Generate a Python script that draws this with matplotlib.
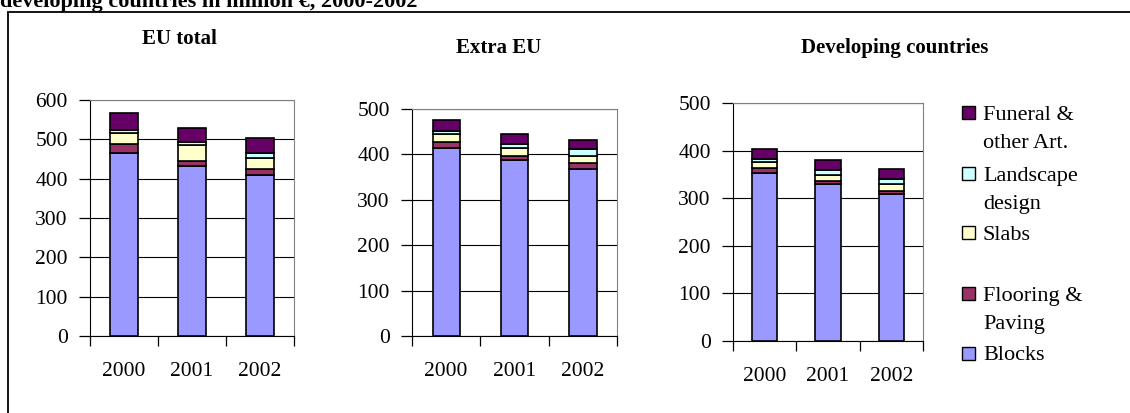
import matplotlib.pyplot as plt
from matplotlib.patches import Rectangle

plt.rcParams['font.family'] = ['Liberation Serif', 'DejaVu Serif']

W, H = 1130, 413

years = ['2000', '2001', '2002']
series = ['Blocks', 'Flooring & Paving', 'Slabs', 'Landscape design', 'Funeral & other Art.']
colors = ['#9999FF', '#993366', '#FFFFCC', '#CCFFFF', '#660066']

# values, million euro, rows follow `series`
eu_total = [[466, 433, 409],
            [22, 13, 15],
            [29, 39, 29],
            [7, 8, 13],
            [42, 37, 37]]
extra_eu = [[415, 388, 368],
            [13, 8, 12],
            [16, 19, 16],
            [7, 8, 16],
            [25, 22, 20]]
developing = [[352, 329, 308],
              [12, 7, 7],
              [12, 13, 14],
              [7, 11, 12],
              [20, 20, 21]]

panel_titles = ['EU total', 'Extra EU', 'Developing countries']
panel_data = [eu_total, extra_eu, developing]
panel_ymax = [600, 500, 500]

# legend order top to bottom, as in the original
legend_labels = ['Funeral &\nother Art.', 'Landscape\ndesign', 'Slabs', 'Flooring &\nPaving', 'Blocks']
legend_colors = [colors[4], colors[3], colors[2], colors[1], colors[0]]

# axes boxes in pixels: left, top, right, bottom
boxes = [(90, 100, 294, 336), (412, 109, 617, 336), (733, 103, 923, 341)]
title_pos = [(179, 39), (499, 48), (895, 48)]


def fx(px):
    return px / W


def fy(py):
    return 1 - py / H


fig = plt.figure(figsize=(W / 100, H / 100), dpi=100)

# outer frame and the heading that is cut off at the top
fig.add_artist(Rectangle((fx(8), fy(H + 5)), fx(W + 10), (H - 7) / H,
                         transform=fig.transFigure, fill=False, ec='black', lw=1.3))
fig.text(0.0, fy(7), 'developing countries in million \u20ac, 2000-2002',
         fontsize=16, fontweight='bold', ha='left', va='baseline')

for (l, t, r, b), data, ttl, ymax, tp in zip(boxes, panel_data, panel_titles, panel_ymax, title_pos):
    ax = fig.add_axes([fx(l), fy(b), (r - l) / W, (b - t) / H])
    x = range(len(years))
    bottom = [0] * len(years)
    for vals, c in zip(data, colors):
        ax.bar(x, vals, width=0.4, bottom=bottom, color=c, edgecolor='black', lw=1.2, zorder=3)
        bottom = [bb + v for bb, v in zip(bottom, vals)]
    ax.set_xlim(-0.5, 2.5)
    ax.set_ylim(0, ymax)
    ax.set_yticks(range(0, ymax + 1, 100))
    ax.yaxis.grid(True, color='black', lw=0.8, zorder=0)
    ax.set_xticks([-0.5, 0.5, 1.5, 2.5])
    ax.set_xticklabels([])
    ax.set_xticks(list(x), years, minor=True)
    ax.tick_params(axis='x', which='major', length=7, width=0.9, direction='out')
    ax.tick_params(axis='x', which='minor', length=0, pad=19, labelsize=15.5)
    ax.tick_params(axis='y', length=8, width=0.9, direction='out', pad=8, labelsize=15.5)
    for s in ['top', 'right']:
        ax.spines[s].set_color('#808080')
    for s in ['left', 'bottom']:
        ax.spines[s].set_color('black')
    fig.text(fx(tp[0]), fy(tp[1]), ttl, fontsize=15, fontweight='bold', ha='center', va='center')

# legend drawn by hand so the swatch sits beside the first line
entry_y = [112.5, 173, 233, 293.5, 353]
for lab, c, ey in zip(legend_labels, legend_colors, entry_y):
    fig.add_artist(Rectangle((fx(962), fy(ey + 6.5)), 13 / W, 13 / H,
                             transform=fig.transFigure, fc=c, ec='black', lw=1.0))
    for i, line in enumerate(lab.split('\n')):
        fig.text(fx(983), fy(ey + 7.5 + i * 28.5), line, fontsize=16, ha='left', va='baseline')

fig.savefig('out.png', dpi=100)
